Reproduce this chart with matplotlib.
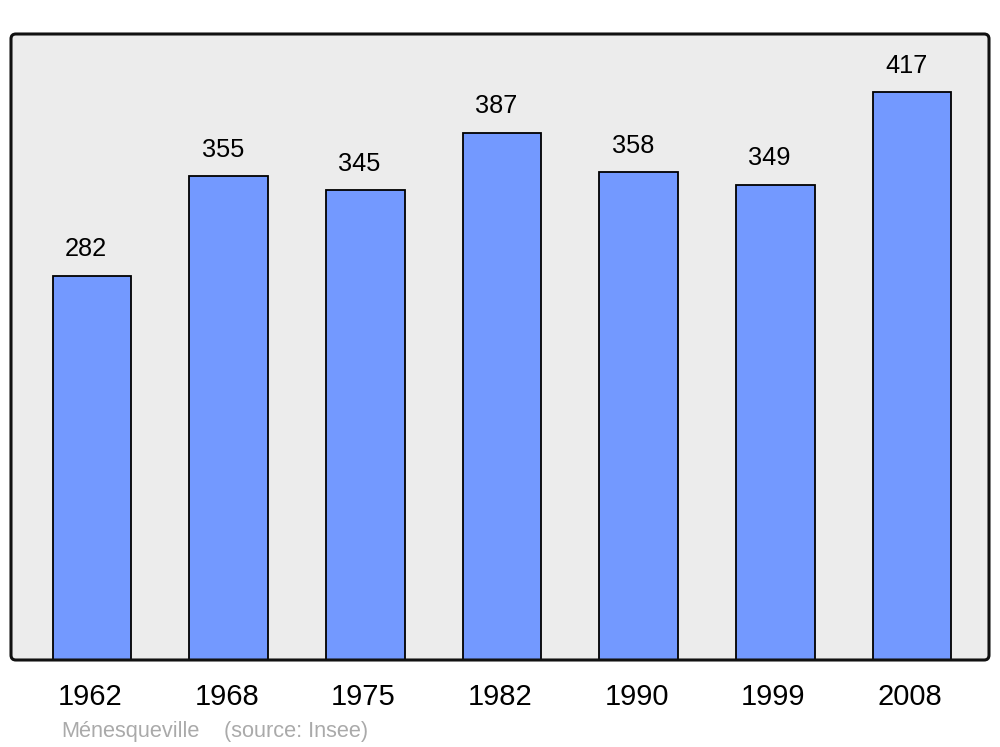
import matplotlib.pyplot as plt
from matplotlib.patches import FancyBboxPatch

years = ['1962', '1968', '1975', '1982', '1990', '1999', '2008']
population = [282, 355, 345, 387, 358, 349, 417]
town = 'Ménesqueville'
source = '(source: Insee)'

plt.rcParams['font.family'] = ['Liberation Sans', 'DejaVu Sans']

fig = plt.figure(figsize=(10, 7.47), dpi=100)
ax = fig.add_axes([11 / 1000, 1 - 660 / 747, 978 / 1000, 626 / 747])
ax.set_axis_off()

asp = 978 / 626
bg = FancyBboxPatch((0, 0), 1, 1, transform=ax.transAxes,
                    boxstyle='round,pad=0,rounding_size=0.005', mutation_aspect=asp,
                    facecolor='#ececec', edgecolor='none', zorder=0, clip_on=False)
ax.add_patch(bg)

x = list(range(len(years)))
ax.bar(x, population, width=0.575, color='#7399ff', edgecolor='black',
       linewidth=1.3, zorder=2)

for xi, v in zip(x, population):
    ax.annotate(str(v), (xi, v), xytext=(-4.3, 14), textcoords='offset points',
                ha='center', va='baseline', fontsize=18.3, zorder=3)
    ax.annotate(years[xi], (xi, 0), xytext=(-1.5, -32.4), textcoords='offset points',
                ha='center', va='baseline', fontsize=21, annotation_clip=False)

ax.set_xlim(-0.593, 6.563)
ax.set_ylim(0, 459.6)

border = FancyBboxPatch((0, 0), 1, 1, transform=ax.transAxes,
                        boxstyle='round,pad=0,rounding_size=0.005', mutation_aspect=asp,
                        facecolor='none', edgecolor='#111111', linewidth=2.2,
                        zorder=4, clip_on=False)
ax.add_patch(border)

fig.text(61 / 1000, 1 - 737 / 747, town, color='#aaaaaa', fontsize=15.7,
         ha='left', va='baseline')
fig.text(224 / 1000, 1 - 737 / 747, source, color='#aaaaaa', fontsize=15.7,
         ha='left', va='baseline')

fig.savefig('out.png', dpi=100)
